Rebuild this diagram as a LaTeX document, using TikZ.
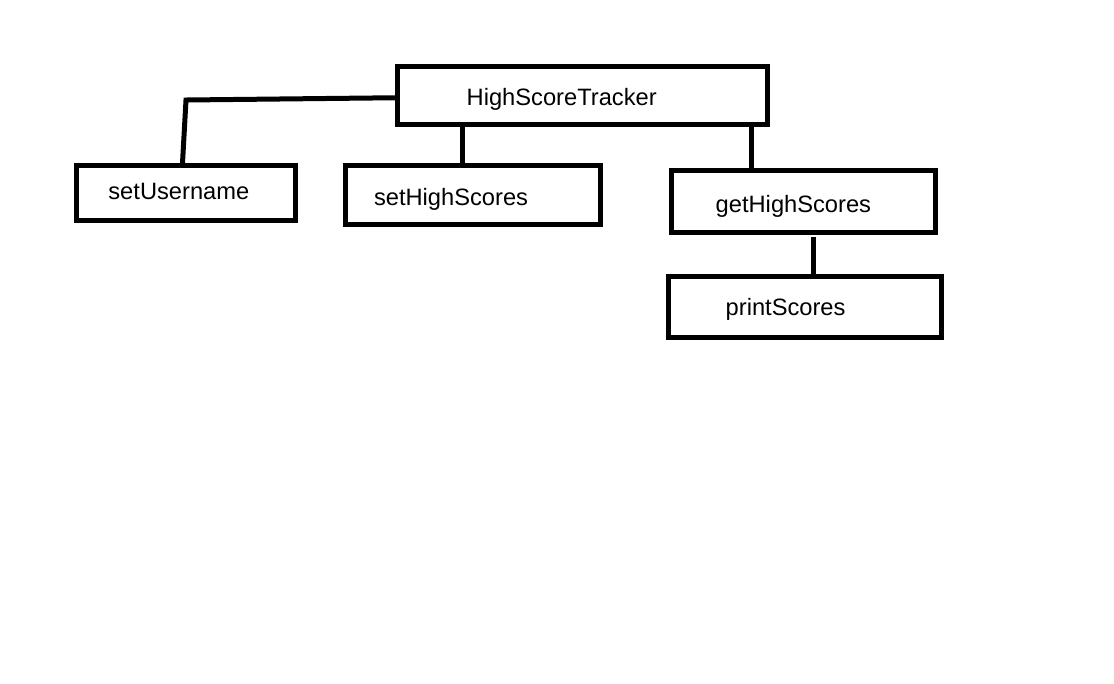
\documentclass[tikz,border=0pt]{standalone}
\usepackage{fontspec}
\setmainfont{Liberation Sans}
\usepackage{tikz}
\usetikzlibrary{positioning}

\tikzset{
  box/.style={draw, line width=0.5mm, rectangle, inner sep=0pt},
  lbl/.style={anchor=base west, inner sep=0pt, font=\fontsize{6.74}{8}\selectfont},
  link/.style={line width=0.5mm}
}

\begin{document}
\begin{tikzpicture}[x=0.1mm, y=-0.1mm]
    \useasboundingbox[fill=white] (0,0) rectangle (1114,683);

    % Draw the boxes (centre, width and height)
    \foreach \name/\x/\y/\w/\h in {hst/582.5/95.25/37/5.75, user/186/192.75/21.9/5.45,
        shs/472.5/194.75/25.5/5.85, ghs/803/201.25/26.4/6.25, prt/805/306.75/27.3/6.05} {
        \node[box, minimum width=\w mm, minimum height=\h mm] (\name) at (\x,\y) {};
    }

    % Write the method names inside the boxes
    \foreach \name/\x/\y/\txt in {hst/466/105/HighScoreTracker, user/107.7/199.5/setUsername,
        shs/373.3/205/setHighScores, ghs/715/212.7/getHighScores, prt/725/315/printScores} {
        \node[lbl] (t\name) at (\x,\y) {\txt};
    }

    % Connect the tracker to its methods
    \coordinate (bend) at (186,100);
    \coordinate (c2) at (462,0);
    \coordinate (c3) at (751,0);
    \coordinate (c4) at (813.5,237);
    \draw[link] ([yshift=-0.25mm]hst.west) -- (bend) -- ([xshift=-0.35mm]user.north);
    \draw[link] (c2 |- hst.south) -- (c2 |- shs.north);
    \draw[link] (c3 |- hst.south) -- (c3 |- ghs.north);
    \draw[link] (c4) -- (c4 |- prt.north);
\end{tikzpicture}
\end{document}
